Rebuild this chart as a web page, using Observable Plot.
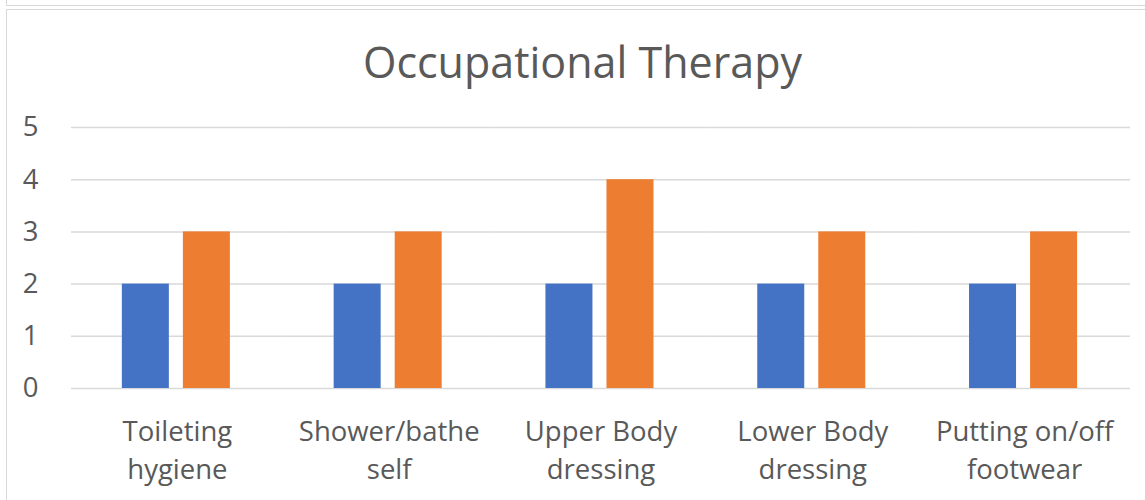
<!DOCTYPE html>
<html>
<head>
<meta charset="utf-8">
<script src="https://cdn.jsdelivr.net/npm/d3@7"></script>
<script src="https://cdn.jsdelivr.net/npm/@observablehq/plot@0.6"></script>
<style>
  html, body { margin: 0; padding: 0; background: #fff; width: 1145px; height: 500px; overflow: hidden; }
  .box { position: absolute; border: 1.5px solid #d9d9d9; box-sizing: border-box; }
  #title { position: absolute; left: 10px; top: 40px; width: 1145px; text-align: center;
           font-family: "Open Sans", sans-serif; font-size: 43px; line-height: 1; color: #595959; }
  #chart { position: absolute; left: 0; top: 100px; }
</style>
</head>
<body>
<div class="box" style="left:6px; top:-30px; width:1300px; height:36px;"></div>
<div class="box" style="left:6px; top:9px; width:1300px; height:700px;"></div>
<div id="title">Occupational Therapy</div>
<div id="chart"></div>
<script>
const categories = ["Toileting hygiene", "Shower/bathe self", "Upper Body dressing", "Lower Body dressing", "Putting on/off footwear"];
const tickLabels = ["Toileting\nhygiene", "Shower/bathe\nself", "Upper Body\ndressing", "Lower Body\ndressing", "Putting on/off\nfootwear"];
const seriesNames = ["Series 1", "Series 2"];
const series1 = [2, 2, 2, 2, 2];
const series2 = [3, 3, 4, 3, 3];
const yTicks = [0, 1, 2, 3, 4, 5];
const colors = ["#4472C4", "#ED7D31"];

const data = [];
categories.forEach((c, i) => {
  data.push({category: c, series: seriesNames[0], value: series1[i]});
  data.push({category: c, series: seriesNames[1], value: series2[i]});
});
const labelOf = new Map(categories.map((c, i) => [c, tickLabels[i]]));

const chart = Plot.plot({
  width: 1145,
  height: 400,
  marginTop: 27,
  marginBottom: 112,
  marginLeft: 71,
  marginRight: 15,
  style: {fontFamily: "'Open Sans', sans-serif", color: "#595959", background: "transparent"},
  fx: {domain: categories, paddingInner: 0, paddingOuter: 0, round: false, axis: null, label: null},
  x: {domain: seriesNames, paddingInner: 0.23, paddingOuter: 0.85, align: 0.49, round: false, axis: null, label: null},
  y: {domain: [0, 5], axis: null, label: null},
  color: {domain: seriesNames, range: colors},
  marks: [
    Plot.gridY(yTicks, {stroke: "#d9d9d9", strokeOpacity: 1, strokeWidth: 1.5}),
    Plot.barY(data, {fx: "category", x: "series", y: "value", fill: "series"}),
    Plot.axisY(yTicks, {label: null, tickSize: 0, tickPadding: 33, fontSize: 27.5, fill: "#595959", tickFormat: d => String(d)}),
    Plot.axisFx({anchor: "bottom", label: null, tickSize: 0, tickPadding: 25, fontSize: 27.5, lineHeight: 1.4, fill: "#595959", tickFormat: d => labelOf.get(d)})
  ]
});
document.getElementById("chart").appendChild(chart);
</script>
</body>
</html>
